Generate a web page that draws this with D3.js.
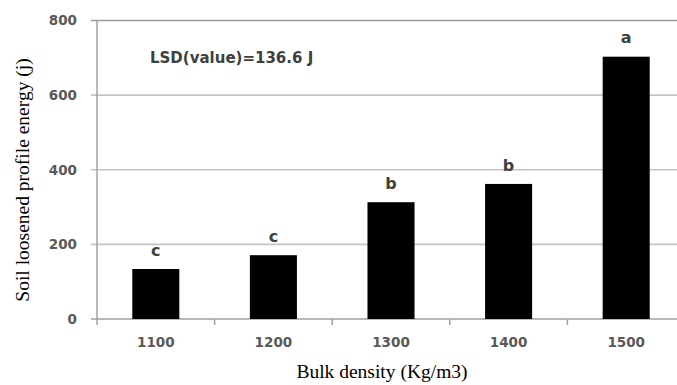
<!DOCTYPE html>
<html>
<head>
<meta charset="utf-8">
<script src="https://cdn.jsdelivr.net/npm/d3@7"></script>
<style>
  body { margin: 0; background: #fff; }
  svg { display: block; }
  .tick-label { font-family: "DejaVu Sans", sans-serif; font-weight: bold; font-size: 13.5px; fill: #595959; }
  .letter { font-family: "DejaVu Sans", sans-serif; font-weight: bold; font-size: 16px; fill: #404040; }
  .axis-title { font-family: "Liberation Serif", "Times New Roman", serif; font-size: 19.5px; fill: #000; }
</style>
</head>
<body>
<svg id="chart" width="677" height="385"></svg>
<script>
const categories = ["1100", "1200", "1300", "1400", "1500"];
const energy = [134, 171, 313, 362, 703];
const groups = ["c", "c", "b", "b", "a"];
const yTicks = [0, 200, 400, 600, 800];
const lsdText = "LSD(value)=136.6 J";

const svg = d3.select("#chart");
const plotLeft = 97, plotRight = 685, plotTop = 20.5, plotBottom = 319;

const x = d3.scaleBand()
  .domain(categories)
  .range([plotLeft, plotRight])
  .paddingInner(0.6)
  .paddingOuter(0.3);

const y = d3.scaleLinear().domain([0, 800]).range([plotBottom, plotTop]);

svg.append("rect").attr("width", 677).attr("height", 385).attr("fill", "#fff");

// gridlines (with the little tick stubs on the left)
svg.selectAll(".grid")
  .data(yTicks.filter(d => d > 0))
  .enter()
  .append("line")
  .attr("class", "grid")
  .attr("x1", plotLeft - 6)
  .attr("x2", plotRight)
  .attr("y1", d => y(d))
  .attr("y2", d => y(d))
  .attr("stroke", d => d === 800 ? "#9a9a9a" : "#c4c4c4")
  .attr("stroke-width", 1.6);

// y axis line
svg.append("line")
  .attr("x1", plotLeft).attr("x2", plotLeft)
  .attr("y1", plotTop).attr("y2", plotBottom)
  .attr("stroke", "#a0a0a0").attr("stroke-width", 1.5);

// x axis line + tick at zero
svg.append("line")
  .attr("x1", plotLeft - 6).attr("x2", plotRight)
  .attr("y1", plotBottom).attr("y2", plotBottom)
  .attr("stroke", "#a0a0a0").attr("stroke-width", 1.5);

// x ticks at band boundaries
const gap = (x.step() - x.bandwidth()) / 2;
svg.selectAll(".xtick")
  .data(categories)
  .enter()
  .append("line")
  .attr("x1", d => x(d) - gap).attr("x2", d => x(d) - gap)
  .attr("y1", plotBottom).attr("y2", plotBottom + 6)
  .attr("stroke", "#a0a0a0").attr("stroke-width", 1.5);

// y tick labels
svg.selectAll(".ylab")
  .data(yTicks)
  .enter()
  .append("text")
  .attr("class", "tick-label")
  .attr("x", plotLeft - 20)
  .attr("y", d => y(d))
  .attr("dy", "0.36em")
  .attr("text-anchor", "end")
  .text(d => d);

// x tick labels
svg.selectAll(".xlab")
  .data(categories)
  .enter()
  .append("text")
  .attr("class", "tick-label")
  .attr("x", d => x(d) + x.bandwidth() / 2)
  .attr("y", 342)
  .attr("dy", "0.36em")
  .attr("text-anchor", "middle")
  .text(d => d);

// bars
svg.selectAll(".bar")
  .data(energy)
  .enter()
  .append("rect")
  .attr("class", "bar")
  .attr("x", (d, i) => x(categories[i]))
  .attr("width", x.bandwidth())
  .attr("y", d => y(d))
  .attr("height", d => y(0) - y(d))
  .attr("fill", "#000");

// significance letters
svg.selectAll(".letter")
  .data(groups)
  .enter()
  .append("text")
  .attr("class", "letter")
  .attr("x", (d, i) => x(categories[i]) + x.bandwidth() / 2)
  .attr("y", (d, i) => y(energy[i]) - 19)
  .attr("dy", "0.36em")
  .attr("text-anchor", "middle")
  .text(d => d);

// LSD note
svg.append("text")
  .attr("class", "tick-label")
  .attr("x", 150)
  .attr("y", 63)
  .style("fill", "#404040")
  .style("font-size", "15px")
  .text(lsdText);

// axis titles
svg.append("text")
  .attr("class", "axis-title")
  .attr("x", (plotLeft + plotRight) / 2 - 9)
  .attr("y", 378)
  .attr("text-anchor", "middle")
  .text("Bulk density (Kg/m3)");

svg.append("text")
  .attr("class", "axis-title")
  .attr("transform", "translate(29," + 180 + ") rotate(-90)")
  .attr("text-anchor", "middle")
  .text("Soil loosened profile energy (j)");
</script>
</body>
</html>
